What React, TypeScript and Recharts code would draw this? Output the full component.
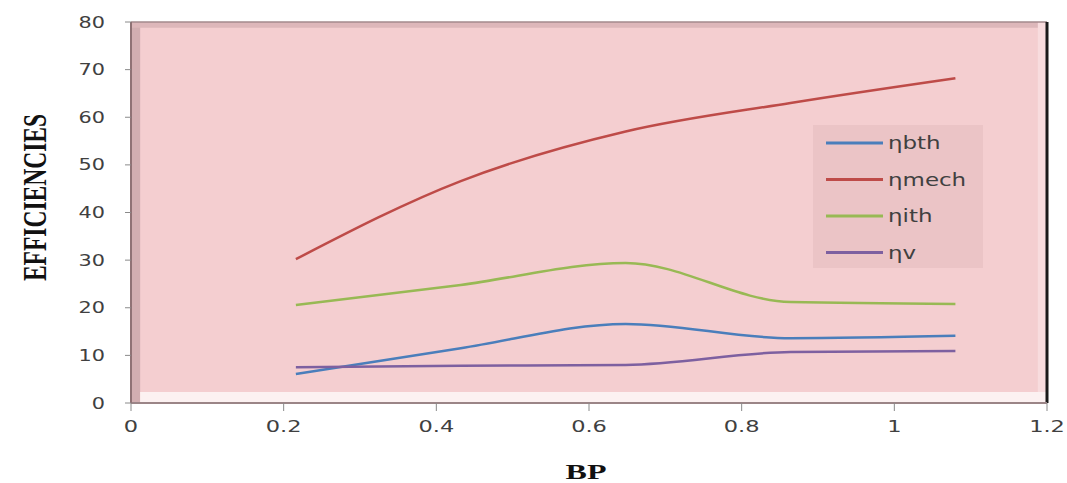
import React from "react";
import {
  LineChart,
  Line,
  XAxis,
  YAxis,
  CartesianGrid,
  Legend,
  ReferenceArea,
  ReferenceLine,
} from "recharts";

// brake power (kW) and the four efficiencies (%)
const bp = [0.216, 0.432, 0.648, 0.864, 1.08];
const etaBth = [6.1, 11.5, 16.6, 13.6, 14.1];
const etaMech = [30.2, 46.6, 57.0, 63.0, 68.2];
const etaIth = [20.6, 24.8, 29.4, 21.2, 20.8];
const etaV = [7.5, 7.8, 8.0, 10.7, 10.9];

const xTicks = [0, 0.2, 0.4, 0.6, 0.8, 1, 1.2];
const yTicks = [0, 10, 20, 30, 40, 50, 60, 70, 80];

const series = [
  { key: "bth", name: "ηbth", color: "#4a7ebb" },
  { key: "mech", name: "ηmech", color: "#be4b48" },
  { key: "ith", name: "ηith", color: "#98b954" },
  { key: "v", name: "ηv", color: "#7d60a0" },
];

const data = bp.map((x, i) => ({
  bp: x,
  bth: etaBth[i],
  mech: etaMech[i],
  ith: etaIth[i],
  v: etaV[i],
}));

const YTick = (props: any) => {
  const { x, y, payload } = props;
  return (
    <text
      transform={`translate(${x},${y}) scale(1.3,1)`}
      textAnchor="end"
      dominantBaseline="central"
      fontFamily="DejaVu Sans"
      fontSize={16}
      fill="#404040"
    >
      {payload.value}
    </text>
  );
};

const XTick = (props: any) => {
  const { x, y, payload } = props;
  return (
    <text
      transform={`translate(${x},${y + 17}) scale(1.5,1)`}
      textAnchor="middle"
      fontFamily="DejaVu Sans"
      fontSize={15}
      fill="#404040"
    >
      {payload.value}
    </text>
  );
};

const YLabel = (props: any) => {
  const vb = props.viewBox || { x: 0, y: 22, width: 131, height: 381 };
  const cx = vb.x + 35;
  const cy = vb.y + vb.height / 2 - 15;
  return (
    <text
      transform={`translate(${cx},${cy}) scale(1.4,1) rotate(-90)`}
      textAnchor="middle"
      dominantBaseline="central"
      fontFamily="Liberation Serif"
      fontWeight="bold"
      fontSize={23.5}
      fill="#111"
    >
      EFFICIENCIES
    </text>
  );
};

const XLabel = (props: any) => {
  const vb = props.viewBox || { x: 131, y: 403, width: 916, height: 80 };
  return (
    <text
      transform={`translate(${vb.x + vb.width / 2 - 3},${vb.y + 76}) scale(1.6,1)`}
      textAnchor="middle"
      fontFamily="Liberation Serif"
      fontWeight="bold"
      fontSize={20}
      fill="#111"
    >
      BP
    </text>
  );
};

const LegendBox = () => (
  <svg width={170} height={143} style={{ display: "block" }}>
    <rect x={0} y={0} width={170} height={143} fill="#ebc4c6" />
    {series.map((s, i) => {
      const cy = 18 + i * 36.5;
      return (
        <g key={s.key}>
          <line x1={13} x2={70} y1={cy} y2={cy} stroke={s.color} strokeWidth={3} />
          <text
            transform={`translate(75,${cy + 6}) scale(1.35,1)`}
            fontFamily="DejaVu Sans"
            fontSize={17}
            fill="#404040"
          >
            {s.name}
          </text>
        </g>
      );
    })}
  </svg>
);

export default function App() {
  return (
    <div style={{ position: "absolute", left: 0, top: 0, width: 1067, height: 483, background: "#fff" }}>
      <LineChart
        width={1067}
        height={483}
        data={data}
        margin={{ top: 22, right: 20, left: 0, bottom: 0 }}
      >
        <CartesianGrid horizontal={false} vertical={false} fill="#f4ced0" />
        {/* bevel of the plot frame */}
        <ReferenceArea x1={0} x2={0.012} y1={0} y2={80} fill="#d2aeb1" fillOpacity={1} stroke="none" />
        <ReferenceArea x1={0} x2={1.2} y1={78.8} y2={80} fill="#ddb7ba" fillOpacity={1} stroke="none" />
        <ReferenceArea x1={1.188} x2={1.2} y1={0} y2={80} fill="#f8dcde" fillOpacity={1} stroke="none" />
        <ReferenceArea x1={0.012} x2={1.2} y1={0} y2={2.3} fill="#fcf1f1" fillOpacity={1} stroke="none" />
        <ReferenceLine y={80} stroke="#a38a8d" strokeWidth={1.5} />
        <ReferenceLine x={1.2} stroke="#1a1a1a" strokeWidth={3} />
        <XAxis
          dataKey="bp"
          type="number"
          domain={[0, 1.2]}
          ticks={xTicks}
          height={80}
          tickSize={8}
          tickMargin={4}
          tick={<XTick />}
          axisLine={{ stroke: "#9b8587", strokeWidth: 2 }}
          tickLine={{ stroke: "#8a8a8a" }}
          label={<XLabel />}
        />
        <YAxis
          type="number"
          domain={[0, 80]}
          ticks={yTicks}
          width={131}
          tickSize={6}
          tickMargin={20}
          tick={<YTick />}
          axisLine={{ stroke: "#8f7275", strokeWidth: 2 }}
          tickLine={{ stroke: "#8a8a8a" }}
          label={<YLabel />}
        />
        {series.map((s) => (
          <Line
            key={s.key}
            type="monotone"
            dataKey={s.key}
            name={s.name}
            stroke={s.color}
            strokeWidth={2.5}
            dot={false}
            isAnimationActive={false}
          />
        ))}
        <Legend
          layout="vertical"
          align="center"
          verticalAlign="middle"
          content={<LegendBox />}
          wrapperStyle={{ left: 813, top: 125, width: 170, height: 143 }}
        />
      </LineChart>
    </div>
  );
}
